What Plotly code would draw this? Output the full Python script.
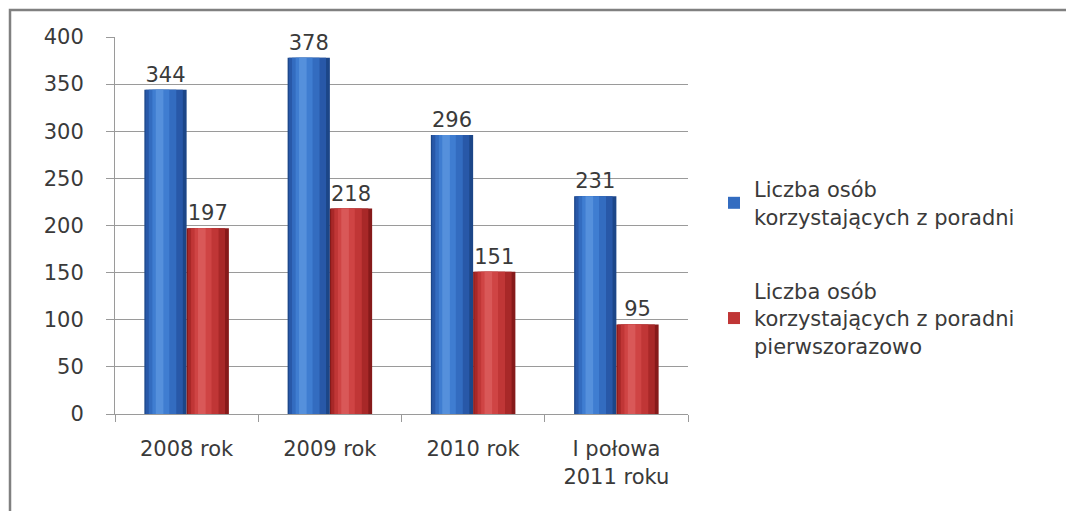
import plotly.graph_objects as go

categories = ["2008 rok", "2009 rok", "2010 rok", "I połowa<br>2011 roku"]
series_names = ["Liczba osób<br>korzystających z poradni",
                "Liczba osób<br>korzystających z poradni<br>pierwszorazowo"]
blue_values = [344, 378, 296, 231]
red_values = [197, 218, 151, 95]
y_ticks = [0, 50, 100, 150, 200, 250, 300, 350, 400]

W, H = 1074, 511
OFF = 8  # browser body margin
ML, MT = 115 - OFF, 37 - OFF
MR = W - (688 - OFF)
MB = H - (414 - OFF)
PW, PH = W - ML - MR, H - MT - MB

FONT = "DejaVu Sans"
FS = 21
TXT = "#3a3a3a"
GRID = "#9a9a9a"
BW = 0.295  # single bar width in category units

# shading layers (width fraction, center shift fraction, colour) - cylinder look
blue_layers = [(1.0, 0.0, "#1c4688"), (0.88, -0.03, "#2858a8"), (0.65, -0.07, "#336cc0"),
               (0.4, -0.11, "#3f7dd1"), (0.18, -0.14, "#5590dc")]
red_layers = [(1.0, 0.0, "#861a1a"), (0.88, -0.03, "#a82828"), (0.65, -0.07, "#c03636"),
              (0.4, -0.11, "#cf4444"), (0.18, -0.14, "#d95858")]

fig = go.Figure()


def add_series(values, layers, start, name, rank):
    for i, (frac, shift, col) in enumerate(layers):
        w = BW * frac
        off = start + (BW - w) / 2 + shift * BW
        fig.add_trace(go.Bar(
            x=categories, y=values, width=[w] * len(values), offset=[off] * len(values),
            marker=dict(color=col, line=dict(width=0)),
            name=name, legendgroup=name, showlegend=(i == 2), legendrank=rank,
            text=[str(v) for v in values] if i == 0 else None,
            textposition="outside" if i == 0 else "none",
            textfont=dict(family=FONT, size=FS, color=TXT),
            cliponaxis=False, hoverinfo="skip" if i else "x+y",
        ))


add_series(blue_values, blue_layers, -BW, series_names[0], 1)
add_series(red_values, red_layers, 0.0, series_names[1], 2)

# outer border (only top and left visible in reference)
x0 = (10 - OFF - ML) / PW
y1 = 1 + (MT - (10 - OFF)) / PH
fig.add_shape(type="rect", xref="paper", yref="paper", x0=x0, y0=-(MB + 20) / PH,
              x1=(W + 20 - ML) / PW, y1=y1, line=dict(color="#808080", width=2.5),
              fillcolor="rgba(0,0,0,0)", layer="below")

fig.update_layout(
    width=W, height=H, margin=dict(l=ML, r=MR, t=MT, b=MB),
    paper_bgcolor="white", plot_bgcolor="white",
    barmode="overlay", showlegend=True,
    font=dict(family=FONT, size=FS, color=TXT),
    legend=dict(x=(714 - OFF - ML) / PW, xanchor="left",
                y=1 - (169 - OFF - MT) / PH, yanchor="top",
                font=dict(family=FONT, size=FS, color=TXT), tracegroupgap=44,
                itemwidth=30, bgcolor="rgba(0,0,0,0)", traceorder="grouped"),
    xaxis=dict(type="category", showline=True, linecolor=GRID, linewidth=1,
               ticks="outside", tickson="boundaries", ticklen=7, tickcolor=GRID,
               showgrid=False, tickfont=dict(family=FONT, size=FS, color=TXT),
               ticklabelstandoff=16, range=[-0.5, 3.5]),
    yaxis=dict(range=[0, 400], tickvals=y_ticks, showline=True, linecolor=GRID,
               linewidth=1, showgrid=True, gridcolor=GRID, gridwidth=1,
               ticks="outside", ticklen=8, tickcolor=GRID, zeroline=False,
               ticklabelstandoff=18,
               tickfont=dict(family=FONT, size=FS, color=TXT)),
)

fig.write_html("out.html")
